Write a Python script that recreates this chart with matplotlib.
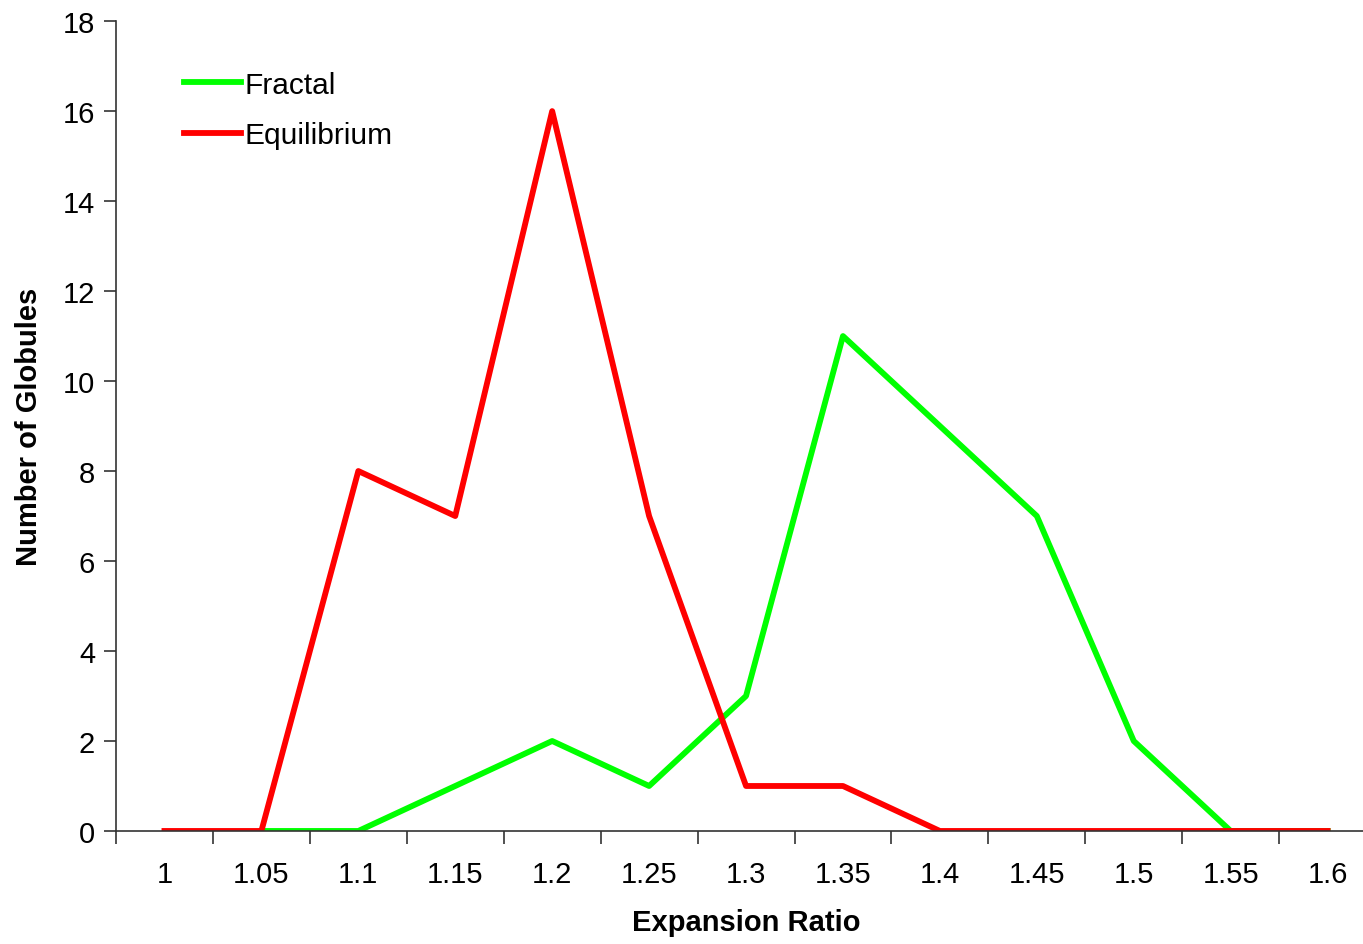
import matplotlib.pyplot as plt
import numpy as np

plt.rcParams['font.family'] = ['Liberation Sans', 'DejaVu Sans']

# expansion ratio categories and globule counts
ratios = ['1', '1.05', '1.1', '1.15', '1.2', '1.25', '1.3',
          '1.35', '1.4', '1.45', '1.5', '1.55', '1.6']
fractal = [0, 0, 0, 1, 2, 1, 3, 11, 9, 7, 2, 0, 0]
equilibrium = [0, 0, 8, 7, 16, 7, 1, 1, 0, 0, 0, 0, 0]

fig = plt.figure(figsize=(13.63, 9.45), dpi=100)
# the original picture is cut off on the right, so the axes run past the edge
ax = fig.add_axes([0.0851, 0.1196, 0.9245, 0.857])

x = np.arange(len(ratios)) + 0.5
ax.plot(x[1:], fractal[1:], color='#00ff00', lw=4.2, label='Fractal',
        solid_joinstyle='round')
ax.plot(x, equilibrium, color='#ff0000', lw=4.2, label='Equilibrium',
        solid_joinstyle='round')

ax.set_xlim(0, len(ratios))
ax.set_ylim(0, 18)
ax.set_yticks(range(0, 19, 2))
ax.set_xticks(np.arange(len(ratios) + 1))
ax.set_xticklabels([])
ax.set_xticks(x, minor=True)
ax.set_xticklabels(ratios, minor=True)
ax.tick_params(axis='x', which='minor', length=0, pad=21, labelsize=21)
ax.tick_params(axis='x', which='major', length=9, width=1.2, color='#333333', direction='out')
ax.tick_params(axis='y', length=9, width=1.2, color='#333333', labelsize=21, pad=6)

for s in ['top', 'right']:
    ax.spines[s].set_visible(False)
for s in ['left', 'bottom']:
    ax.spines[s].set_color('#333333')
    ax.spines[s].set_linewidth(1.2)

ax.set_xlabel('Expansion Ratio', fontsize=21, fontweight='bold', labelpad=14)
ax.set_ylabel('Number of Globules', fontsize=21, fontweight='bold', labelpad=14)

ax.legend(loc='upper left', bbox_to_anchor=(0.033, 0.972), frameon=False,
          fontsize=21.5, handlelength=1.9, handletextpad=0.1, labelspacing=0.75)

fig.savefig('out.png', dpi=100)
